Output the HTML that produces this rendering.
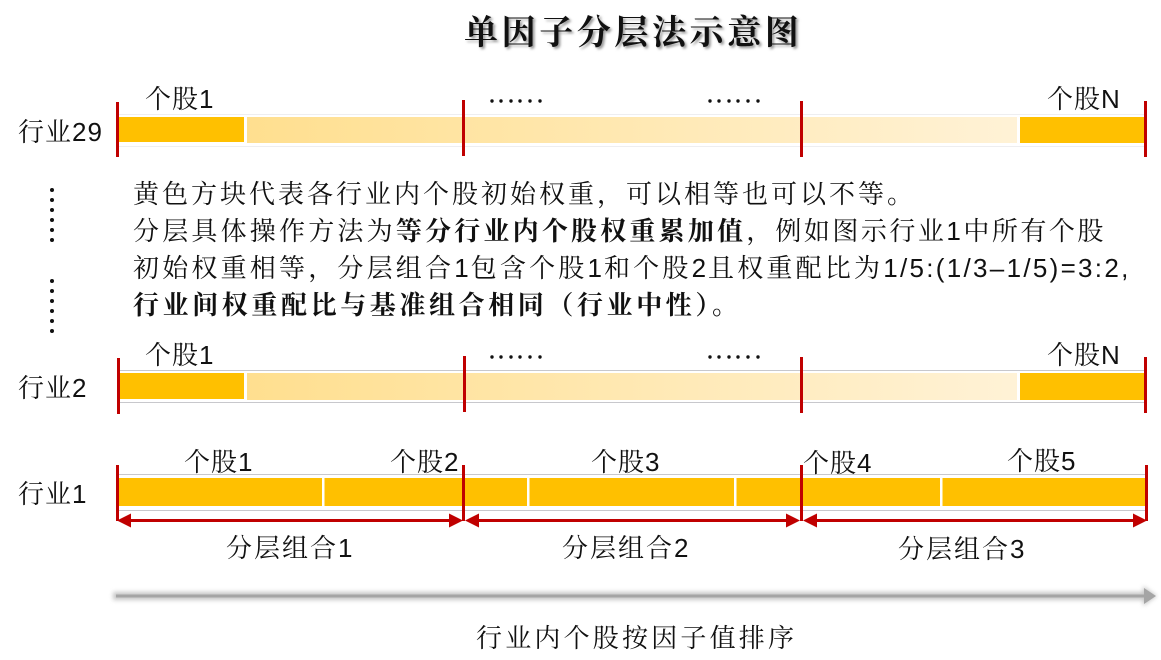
<!DOCTYPE html>
<html><head><meta charset="utf-8"><style>
html,body{margin:0;padding:0;background:#fff}
svg{display:block}
text{font-family:"Liberation Sans","Noto Serif CJK SC",serif;fill:#111}
.l{font-size:26px;letter-spacing:1px}
.b{font-size:26px;letter-spacing:3.2px}
.strong{font-weight:700}
</style></head><body>
<svg width="1161" height="660" viewBox="0 0 1161 660" xmlns="http://www.w3.org/2000/svg">
<defs>
<linearGradient id="g" x1="0" x2="1" y1="0" y2="0"><stop offset="0" stop-color="#ffdf8f"/><stop offset="1" stop-color="#fff2d6"/></linearGradient>
<filter id="s" x="-5%" y="-5%" width="110%" height="130%"><feGaussianBlur stdDeviation="1.2"/></filter>
<filter id="a" x="-2%" y="-300%" width="104%" height="700%"><feGaussianBlur stdDeviation="2"/></filter>
</defs>

<text x="464" y="44" font-size="34" font-weight="700" letter-spacing="3.6" style="fill:#999" filter="url(#s)" transform="translate(2,2)">单因子分层法示意图</text>
<text x="464" y="44" font-size="34" font-weight="700" letter-spacing="3.6">单因子分层法示意图</text>

<!-- row 29 -->
<g>
<rect x="118" y="114" width="1027" height="1" fill="#eeeef0"/><rect x="118" y="146" width="1027" height="1" fill="#eeeef0"/>
<rect x="118" y="117" width="126" height="25" fill="#ffc000"/>
<rect x="247" y="117" width="770" height="26" fill="url(#g)"/>
<rect x="1020" y="117" width="125" height="26" fill="#ffc000"/>
<rect x="116" y="102" width="3" height="55" fill="#c00000"/>
<rect x="462" y="100" width="3" height="56" fill="#c00000"/>
<rect x="800" y="101" width="3" height="56" fill="#c00000"/>
<rect x="1144" y="101" width="3" height="56" fill="#c00000"/>
</g>
<text x="145" y="108" class="l">个股1</text>
<text x="1047" y="108" class="l">个股N</text>
<text x="18" y="141" class="l">行业29</text>
<g fill="#111"><circle cx="492" cy="101" r="1.7"/><circle cx="501" cy="101" r="1.7"/><circle cx="511" cy="101" r="1.7"/><circle cx="520" cy="101" r="1.7"/><circle cx="530" cy="101" r="1.7"/><circle cx="540" cy="101" r="1.7"/>
<circle cx="710" cy="101" r="1.7"/><circle cx="719" cy="101" r="1.7"/><circle cx="729" cy="101" r="1.7"/><circle cx="738" cy="101" r="1.7"/><circle cx="748" cy="101" r="1.7"/><circle cx="758" cy="101" r="1.7"/></g>

<!-- vertical dots -->
<g fill="#111"><circle cx="52" cy="190" r="2"/><circle cx="52" cy="200" r="2"/><circle cx="52" cy="210" r="2"/><circle cx="52" cy="220" r="2"/><circle cx="52" cy="230" r="2"/><circle cx="52" cy="240" r="2"/>
<circle cx="52" cy="281" r="2"/><circle cx="52" cy="291" r="2"/><circle cx="52" cy="301" r="2"/><circle cx="52" cy="311" r="2"/><circle cx="52" cy="321" r="2"/><circle cx="52" cy="331" r="2"/></g>

<!-- paragraph -->
<text x="133" y="203" class="b" style="letter-spacing:3px">黄色方块代表各行业内个股初始权重，可以相等也可以不等。</text>
<text x="133" y="240" class="b">分层具体操作方法为<tspan class="strong">等分行业内个股权重累加值</tspan>，<tspan style="letter-spacing:2.5px">例如图示行业1中所有个股</tspan></text>
<text x="133" y="277" class="b">初始权重相等，分层组合<tspan style="letter-spacing:2px">1</tspan>包含个股<tspan style="letter-spacing:2px">1</tspan>和个股<tspan style="letter-spacing:2px">2</tspan>且权重配比为<tspan style="letter-spacing:2.3px">1/5:(1/3–1/5)=3:2,</tspan></text>
<text x="133" y="314" class="b strong" style="letter-spacing:3.6px">行业间权重配比与基准组合相同（行业中性）。</text>

<!-- row 2 -->
<g>
<rect x="118" y="370" width="1027" height="1" fill="#c8c8cc"/><rect x="118" y="402" width="1027" height="1" fill="#c8c8cc"/>
<rect x="118" y="373" width="126" height="26" fill="#ffc000"/>
<rect x="247" y="373" width="770" height="27" fill="url(#g)"/>
<rect x="1020" y="373" width="125" height="27" fill="#ffc000"/>
<rect x="117" y="358" width="3" height="56" fill="#c00000"/>
<rect x="463" y="356" width="3" height="56" fill="#c00000"/>
<rect x="800" y="357" width="3" height="56" fill="#c00000"/>
<rect x="1144" y="357" width="3" height="56" fill="#c00000"/>
</g>
<text x="145" y="364" class="l">个股1</text>
<text x="1047" y="364" class="l">个股N</text>
<text x="18" y="397" class="l">行业2</text>
<g fill="#111"><circle cx="492" cy="357" r="1.7"/><circle cx="501" cy="357" r="1.7"/><circle cx="511" cy="357" r="1.7"/><circle cx="520" cy="357" r="1.7"/><circle cx="530" cy="357" r="1.7"/><circle cx="540" cy="357" r="1.7"/>
<circle cx="710" cy="357" r="1.7"/><circle cx="719" cy="357" r="1.7"/><circle cx="729" cy="357" r="1.7"/><circle cx="738" cy="357" r="1.7"/><circle cx="748" cy="357" r="1.7"/><circle cx="758" cy="357" r="1.7"/></g>

<!-- row 1 -->
<rect x="118" y="474" width="1027" height="1" fill="#c8c8cc"/><rect x="118" y="510" width="1027" height="1" fill="#c8c8cc"/>
<rect x="118" y="478" width="1028" height="28" fill="#ffc000"/>
<rect x="322" y="478" width="2.5" height="28" fill="#fff"/>
<rect x="527" y="478" width="2.5" height="28" fill="#fff"/>
<rect x="734" y="478" width="2.5" height="28" fill="#fff"/>
<rect x="940" y="478" width="2.5" height="28" fill="#fff"/>
<rect x="116" y="465" width="3" height="56" fill="#c00000"/>
<rect x="462" y="465" width="3" height="56" fill="#c00000"/>
<rect x="800" y="465" width="3" height="56" fill="#c00000"/>
<rect x="1145" y="465" width="3" height="56" fill="#c00000"/>
<g fill="#c00000">
<rect x="120" y="519" width="340" height="3"/>
<path d="M117 520.5l14-7v14z"/><path d="M463 520.5l-14-7v14z"/>
<rect x="470" y="519" width="326" height="3"/>
<path d="M465 520.5l14-7v14z"/><path d="M800 520.5l-14-7v14z"/>
<rect x="808" y="519" width="335" height="3"/>
<path d="M803 520.5l14-7v14z"/><path d="M1147 520.5l-14-7v14z"/>
</g>
<text x="184" y="471" class="l">个股1</text>
<text x="390" y="471" class="l">个股2</text>
<text x="591" y="471" class="l">个股3</text>
<text x="803" y="472" class="l">个股4</text>
<text x="1007" y="470" class="l">个股5</text>
<text x="18" y="503" class="l">行业1</text>
<text x="226" y="557" class="l" style="letter-spacing:2px">分层组合1</text>
<text x="562" y="557" class="l" style="letter-spacing:2px">分层组合2</text>
<text x="898" y="558" class="l" style="letter-spacing:2px">分层组合3</text>

<!-- gray arrow -->
<g filter="url(#a)" opacity=".55"><rect x="113" y="592" width="1034" height="8" fill="#999"/><path d="M1143 586l14 10-14 10z" fill="#999"/></g>
<rect x="116" y="594.5" width="1030" height="3" fill="#a5a5a5"/>
<path d="M1144 588l12 8-12 8z" fill="#a5a5a5"/>

<text x="476" y="647" class="l" style="letter-spacing:3.2px">行业内个股按因子值排序</text>
</svg>
</body></html>
